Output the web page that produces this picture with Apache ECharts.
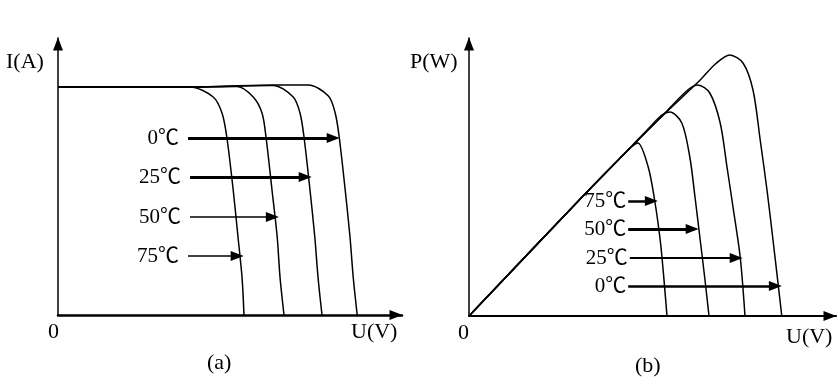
<!DOCTYPE html>
<html>
<head>
<meta charset="utf-8">
<script src="https://cdn.jsdelivr.net/npm/echarts@6/dist/echarts.min.js"></script>
<style>
  html, body { margin: 0; padding: 0; background: #fff; }
  #main { width: 840px; height: 378px; }
</style>
</head>
<body>
<div id="main"></div>
<script>
// I-V curves (a), points [U, I]
var iv0  = [[0,4.56],[16.5,4.56],[26.9,4.6],[31.3,4.6],[33.8,4.38],[34.65,4.04],[35.15,3.56],[35.9,2.5],[36.5,1.56],[36.9,0.76],[37.4,0]];
var iv25 = [[0,4.56],[16.5,4.56],[22.4,4.58],[26.9,4.59],[29.4,4.36],[30.25,4.04],[30.75,3.56],[31.5,2.5],[32.1,1.56],[32.5,0.76],[33.0,0]];
var iv50 = [[0,4.56],[16.5,4.56],[22.4,4.57],[24.4,4.36],[25.5,4.04],[26.0,3.56],[26.75,2.5],[27.4,1.56],[27.75,0.76],[28.25,0]];
var iv75 = [[0,4.56],[16.5,4.56],[19.4,4.36],[20.5,4.04],[21.1,3.56],[21.9,2.5],[22.5,1.56],[23.0,0.76],[23.25,0]];

// P-V curves (b), points [U, P]
var pv0  = [[0,0],[13.9,11.7],[18.9,15.8],[23.9,19.8],[28.9,23.6],[30.8,25.2],[32.6,26.1],[34.25,25.3],[35.5,22.6],[36.4,17.6],[37.25,12.6],[38,7.6],[39.1,0]];
var pv25 = [[0,0],[13.9,11.7],[18.9,15.8],[23.9,19.8],[27.2,22.5],[28.6,23.1],[30.1,22.3],[31.4,19.3],[32.25,14.9],[33,10.9],[33.9,5.9],[34.5,0]];
var pv50 = [[0,0],[13.9,11.7],[18.9,15.8],[22.5,18.8],[24.1,20.1],[25.1,20.4],[26.6,19.3],[27.6,15.9],[28.25,11.9],[28.9,7.6],[29.5,3.6],[30,0]];
var pv75 = [[0,0],[13.9,11.7],[18.9,15.8],[20.3,16.9],[21.1,17.3],[22.4,14.9],[23.2,11.6],[23.9,7.6],[24.3,4.3],[24.75,0]];

// temperature arrows: [y, xStart, xEnd]
var tempLabels = ['0℃', '25℃', '50℃', '75℃'];
var arrowsA = [[3.54, 16.25, 34.4], [2.76, 16.5, 30.9], [1.96, 16.5, 26.8], [1.18, 16.25, 22.4]];
var arrowsB = [[3.0, 19.9, 38.3], [5.8, 20.1, 33.4], [8.7, 19.9, 27.9], [11.5, 19.9, 22.8]];
var arrowWidthA = [3, 3, 1.5, 1.5];
var arrowWidthB = [2.5, 2, 3, 2.5];

var FONT = '"Liberation Serif", "Times New Roman", "Noto Sans CJK SC", serif';
var dom = document.getElementById('main');
var myChart = echarts.init(dom, null, {renderer: 'canvas'});

function mk(arrows, widths) {
    return arrows.map(function (a, i) {
        return [
            {coord: [a[1], a[0]], lineStyle: {width: widths[i]},
             label: {formatter: tempLabels[i]}},
            {coord: [a[2], a[0]]}
        ];
    });
}

function axis(idx, max, w) {
    return {
        type: 'value', gridIndex: idx, min: 0, max: max,
        axisLine: {show: true, onZero: false, symbol: ['none', 'triangle'], symbolSize: [10, 13],
                   symbolOffset: [0, -6], lineStyle: {color: '#000', width: w}},
        axisTick: {show: false}, axisLabel: {show: false}, splitLine: {show: false}
    };
}

function curve(data, xi, extra) {
    var s = {
        type: 'line', xAxisIndex: xi, yAxisIndex: xi, data: data,
        showSymbol: false, smooth: 0.3, silent: true,
        lineStyle: {color: '#000', width: 1.5}
    };
    if (extra) s.markLine = extra;
    return s;
}

function markLine(arrows, widths, dist) {
    return {
        silent: true, animation: false,
        symbol: ['none', 'triangle'], symbolSize: [10, 13],
        lineStyle: {color: '#000', type: 'solid'},
        label: {show: true, position: 'start', distance: dist, color: '#000',
                fontSize: 21, fontFamily: FONT},
        data: mk(arrows, widths)
    };
}

function txt(x, y, s) {
    return {type: 'text', left: x, top: y,
            style: {text: s, font: '22px ' + FONT, fill: '#000'}};
}

option = {
    animation: false,
    backgroundColor: '#fff',
    grid: [
        {left: 58, top: 38, width: 344, height: 277},
        {left: 469, top: 38, width: 367, height: 278}
    ],
    xAxis: [axis(0, 43, 2.5), axis(1, 45.875, 2)],
    yAxis: [axis(0, 5.54, 1.5), axis(1, 27.8, 1.5)],
    graphic: [
        txt(6, 51, 'I(A)'),
        txt(48, 321, '0'),
        txt(351, 321, 'U(V)'),
        txt(207, 352, '(a)'),
        txt(410, 51, 'P(W)'),
        txt(458, 322, '0'),
        txt(786, 326, 'U(V)'),
        txt(635, 355, '(b)')
    ],
    series: [
        curve(iv0, 0, markLine(arrowsA, arrowWidthA, 9)),
        curve(iv25, 0),
        curve(iv50, 0),
        curve(iv75, 0),
        curve(pv0, 1, markLine(arrowsB, arrowWidthB, 2)),
        curve(pv25, 1),
        curve(pv50, 1),
        curve(pv75, 1)
    ]
};

myChart.setOption(option);
</script>
</body>
</html>
